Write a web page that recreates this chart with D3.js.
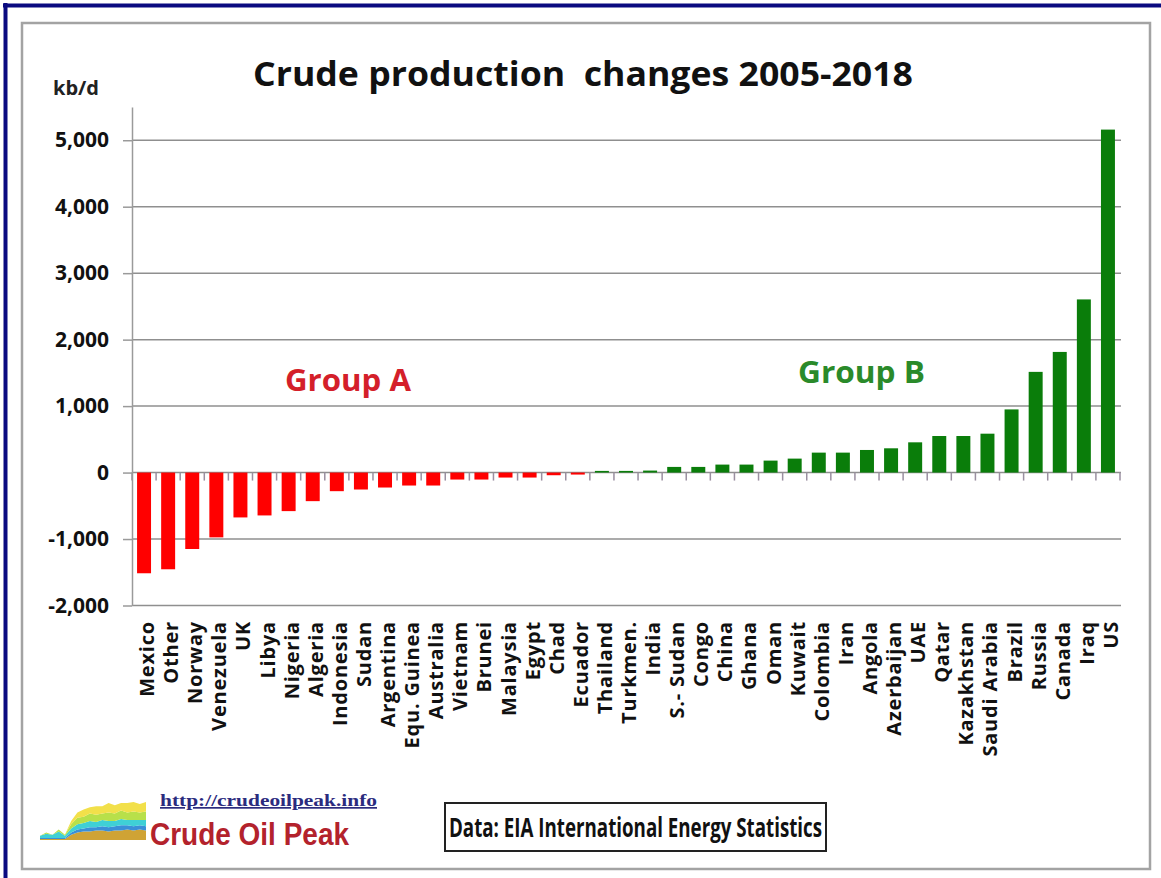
<!DOCTYPE html>
<html><head><meta charset="utf-8">
<script src="https://cdn.jsdelivr.net/npm/d3@7"></script>
<style>body{margin:0;background:#fff} svg{display:block}</style>
</head><body>
<svg id="c" width="1161" height="878"></svg>
<script>
// ---- data ----
const categories = ["Mexico","Other","Norway","Venezuela","UK","Libya","Nigeria","Algeria","Indonesia","Sudan",
  "Argentina","Equ. Guinea","Australia","Vietnam","Brunei","Malaysia","Egypt","Chad","Ecuador","Thailand",
  "Turkmen.","India","S.- Sudan","Congo","China","Ghana","Oman","Kuwait","Colombia","Iran",
  "Angola","Azerbaijan","UAE","Qatar","Kazakhstan","Saudi Arabia","Brazil","Russia","Canada","Iraq","US"];
const changes = [-1515,-1455,-1150,-975,-675,-645,-580,-430,-280,-255,
  -225,-195,-195,-105,-105,-75,-75,-40,-30,25,
  25,30,85,85,120,120,180,210,300,300,
  340,365,455,550,550,585,950,1515,1815,2605,5160];
const yTicks = [-2000,-1000,0,1000,2000,3000,4000,5000];
const yDomain = [-2000,5500];
const titleText = "Crude production  changes 2005-2018";
const unitText = "kb/d";
const groupLabels = ["Group A","Group B"];
const sourceText = "Data: EIA International Energy Statistics";
const siteUrl = "http://crudeoilpeak.info";
const siteName = "Crude Oil Peak";
// logo (small stacked-area emblem)
const logoSteps = [0,1,2,3,4,5,6,7,8,9,10,11,12,13,14,15,16,17];
const logoOrange = [1,1,1,1,1,5,7,8,8,9,9,8,9,9,10,9,10,9];
const logoBlue   = [1,1,1,1,1,2,3,3,4,3,4,4,4,5,4,4,4,4];
const logoCyan   = [2,4,3,6,2,4,5,5,6,5,6,6,5,6,5,6,5,6];
const logoLime   = [0,1,0,2,1,4,6,6,7,7,6,8,7,8,7,8,7,8];
const logoYellow = [0,0,0,0,0,3,5,7,6,8,7,9,8,7,9,9,8,9];

const svg = d3.select("#c");
const FONT = "'Open Sans', 'DejaVu Sans', sans-serif";

// frames
svg.append("line").attr("x1",3).attr("x2",1161).attr("y1",5.5).attr("y2",5.5)
  .attr("stroke","#0a0a80").attr("stroke-width",4);
svg.append("line").attr("x1",5.5).attr("x2",5.5).attr("y1",3).attr("y2",878)
  .attr("stroke","#0a0a80").attr("stroke-width",4);
svg.append("rect").attr("x",22).attr("y",23).attr("width",1128).attr("height",846)
  .attr("fill","none").attr("stroke","#a3a3a3").attr("stroke-width",2.5);

// scales
const x = d3.scaleBand().domain(categories).range([132,1120]).paddingInner(0.42).paddingOuter(0.21);
const y = d3.scaleLinear().domain(yDomain).range([605.5,107]);

// gridlines
svg.append("g").selectAll("line").data(yTicks).join("line")
  .attr("x1",132).attr("x2",1121)
  .attr("y1",d=>y(d)).attr("y2",d=>y(d))
  .attr("stroke","#8f8f8f").attr("stroke-width",1.5);

// bars
svg.append("g").selectAll("rect").data(categories).join("rect")
  .attr("x",c=>x(c))
  .attr("width",x.bandwidth())
  .attr("y",(c,i)=>y(Math.max(0,changes[i])))
  .attr("height",(c,i)=>Math.abs(y(changes[i])-y(0)))
  .attr("fill",(c,i)=>changes[i]<0?"#ff0000":"#0a7d0a");

// x ticks on zero line (category boundaries)
const gap = (x.step()-x.bandwidth())/2;
const bounds = categories.map(c=>x(c)-gap).concat([x(categories[categories.length-1])+x.bandwidth()+gap]);
svg.append("g").selectAll("line").data(bounds).join("line")
  .attr("x1",d=>d).attr("x2",d=>d)
  .attr("y1",y(0)).attr("y2",y(0)+8)
  .attr("stroke","#9a8fa0").attr("stroke-width",1.5);

// y axis
const fmt = d3.format(",");
const yAxis = d3.axisLeft(y).tickValues(yTicks).tickSize(9).tickSizeOuter(0).tickPadding(14)
  .tickFormat(d=>fmt(d).replace("\u2212","-"));
const ga = svg.append("g").attr("transform","translate(132,0)").call(yAxis);
ga.select(".domain").attr("stroke","#9a9a9a").attr("stroke-width",1.5);
ga.selectAll(".tick line").attr("stroke","#9a9a9a").attr("stroke-width",1.5);
ga.selectAll(".tick text").attr("fill","#111").attr("font-family",FONT)
  .attr("font-weight",700).attr("font-size",21);

// category labels
svg.append("g").selectAll("text").data(categories).join("text")
  .attr("transform",c=>`translate(${x(c)+x.bandwidth()/2+3},621) rotate(-90)`)
  .attr("text-anchor","end").attr("dy","0.35em")
  .attr("font-family",FONT).attr("font-weight",700).attr("font-size",20)
  .attr("letter-spacing","0.8px")
  .attr("fill","#111").text(c=>c);

// title & unit
svg.append("text").attr("x",583).attr("y",86).attr("text-anchor","middle")
  .style("white-space","pre").attr("xml:space","preserve")
  .attr("font-family",FONT).attr("font-weight",700).attr("font-size",34)
  .attr("textLength",660).attr("lengthAdjust","spacingAndGlyphs")
  .attr("fill","#111").text(titleText);
svg.append("text").attr("x",53).attr("y",95)
  .attr("font-family",FONT).attr("font-weight",700).attr("font-size",20)
  .attr("fill","#222").text(unitText);

// group labels
svg.append("text").attr("x",285).attr("y",391)
  .attr("font-family",FONT).attr("font-weight",700).attr("font-size",31)
  .attr("textLength",126).attr("lengthAdjust","spacingAndGlyphs")
  .attr("fill","#d41f2a").text(groupLabels[0]);
svg.append("text").attr("x",798).attr("y",383)
  .attr("font-family",FONT).attr("font-weight",700).attr("font-size",31)
  .attr("textLength",127).attr("lengthAdjust","spacingAndGlyphs")
  .attr("fill","#2a8a2a").text(groupLabels[1]);

// source box
svg.append("rect").attr("x",445).attr("y",803).attr("width",381).attr("height",48)
  .attr("fill","#fff").attr("stroke","#222").attr("stroke-width",2);
svg.append("text").attr("x",449).attr("y",837)
  .attr("font-family",FONT).attr("font-weight",700).attr("font-size",26)
  .attr("textLength",373).attr("lengthAdjust","spacingAndGlyphs")
  .attr("fill","#111").text(sourceText);

// logo
svg.append("text").attr("x",160).attr("y",806)
  .attr("font-family","'Liberation Serif', serif").attr("font-weight",700).attr("font-size",17)
  .attr("textLength",217).attr("lengthAdjust","spacingAndGlyphs")
  .attr("text-decoration","underline")
  .attr("fill","#2b2b7e").text(siteUrl);
svg.append("text").attr("x",150).attr("y",845)
  .attr("font-family","'Liberation Sans', Arial, sans-serif").attr("font-weight",700).attr("font-size",32)
  .attr("textLength",199).attr("lengthAdjust","spacingAndGlyphs")
  .attr("fill","#b3222c").text(siteName);

const logoLayers = [logoOrange,logoBlue,logoCyan,logoLime,logoYellow];
const logoColors = ["#cfa335","#3a8fd8","#3fd0d6","#b8e04a","#f2e04a"];
const stackData = logoSteps.map((s,i)=>{const o={s}; logoLayers.forEach((L,k)=>o["k"+k]=L[i]); return o;});
const stack = d3.stack().keys(logoLayers.map((L,k)=>"k"+k))(stackData);
const lx = d3.scaleLinear().domain([0,17]).range([40,146]);
const ly = d3.scaleLinear().domain([0,36]).range([840,802]);
const area = d3.area().x(d=>lx(d.data.s)).y0(d=>ly(d[0])).y1(d=>ly(d[1])).curve(d3.curveLinear);
svg.append("g").selectAll("path").data(stack).join("path")
  .attr("d",area).attr("fill",(d,i)=>logoColors[i]);
</script>
</body></html>
